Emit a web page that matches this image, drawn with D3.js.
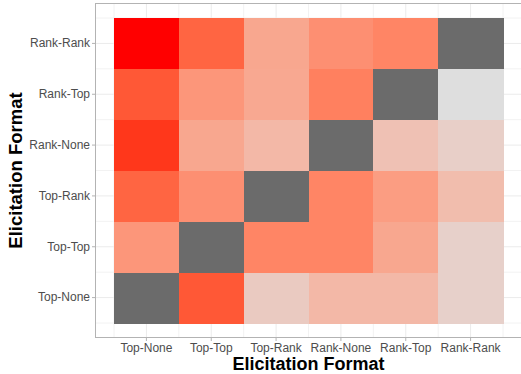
<!DOCTYPE html>
<html>
<head>
<meta charset="utf-8">
<script src="https://cdn.jsdelivr.net/npm/d3@7"></script>
<style>
  body { margin: 0; background: #fff; }
  text { font-family: "Liberation Sans", Arial, sans-serif; }
</style>
</head>
<body>
<div id="chart"></div>
<script>
// formats on the x axis (left to right) and y axis (bottom to top)
let xFormats = ["Top-None", "Top-Top", "Top-Rank", "Rank-None", "Rank-Top", "Rank-Rank"];
let yFormats = ["Top-None", "Top-Top", "Top-Rank", "Rank-None", "Rank-Top", "Rank-Rank"];

// one row per y format (bottom to top), one value per x format; null = same format (grey)
let rowTopNone  = [null, 0.79, 0.13, 0.25, 0.25, 0.09];
let rowTopTop   = [0.46, null, 0.56, 0.56, 0.36, 0.09];
let rowTopRank  = [0.73, 0.50, null, 0.56, 0.42, 0.22];
let rowRankNone = [0.91, 0.36, 0.25, null, 0.19, 0.10];
let rowRankTop  = [0.79, 0.46, 0.35, 0.59, null, 0.00];
let rowRankRank = [1.00, 0.73, 0.36, 0.50, 0.56, null];
let rows = [rowTopNone, rowTopTop, rowTopRank, rowRankNone, rowRankTop, rowRankRank];

let W = 521, H = 374;
let panel = {left: 95, right: 522, top: 3, bottom: 338};
let expandX = 19, expandY = 15;

let svg = d3.select("#chart").append("svg")
  .attr("width", W).attr("height", H);

let x = d3.scaleBand()
  .domain(xFormats)
  .range([panel.left + expandX, panel.right - expandX]);

let y = d3.scaleBand()
  .domain(yFormats)
  .range([panel.bottom - expandY, panel.top + expandY]);

let color = d3.scaleLinear()
  .domain([0, 1])
  .range(["#dedede", "#ff0000"])
  .interpolate(d3.interpolateLab);

let cells = [];
rows.forEach(function(r, i) {
  r.forEach(function(v, j) {
    cells.push({x: xFormats[j], y: yFormats[i], value: v});
  });
});

// grid lines
let grid = svg.append("g");
xFormats.forEach(function(d) {
  grid.append("line")
    .attr("x1", x(d) + x.bandwidth() / 2).attr("x2", x(d) + x.bandwidth() / 2)
    .attr("y1", panel.top).attr("y2", panel.bottom)
    .attr("stroke", "#ebebeb").attr("stroke-width", 1);
});
yFormats.forEach(function(d) {
  grid.append("line")
    .attr("y1", y(d) + y.bandwidth() / 2).attr("y2", y(d) + y.bandwidth() / 2)
    .attr("x1", panel.left).attr("x2", panel.right)
    .attr("stroke", "#ebebeb").attr("stroke-width", 1);
});
// minor grid at cell boundaries
let xs = xFormats.map(function(d) { return x(d); }).concat([x.range()[1]]);
let ys = yFormats.map(function(d) { return y(d); }).concat([y(yFormats[0]) + y.bandwidth()]);
xs.forEach(function(v) {
  grid.append("line").attr("x1", v).attr("x2", v)
    .attr("y1", panel.top).attr("y2", panel.bottom)
    .attr("stroke", "#f2f2f2").attr("stroke-width", 1);
});
ys.forEach(function(v) {
  grid.append("line").attr("y1", v).attr("y2", v)
    .attr("x1", panel.left).attr("x2", panel.right)
    .attr("stroke", "#f2f2f2").attr("stroke-width", 1);
});

// tiles
svg.append("g")
  .attr("shape-rendering", "crispEdges")
  .selectAll("rect")
  .data(cells)
  .enter().append("rect")
  .attr("x", function(d) { return x(d.x); })
  .attr("y", function(d) { return y(d.y); })
  .attr("width", x.bandwidth() + 0.5)
  .attr("height", y.bandwidth() + 0.5)
  .attr("fill", function(d) { return d.value === null ? "#6b6b6b" : color(d.value); });

// panel border
svg.append("rect")
  .attr("x", panel.left + 0.5).attr("y", panel.top + 0.5)
  .attr("width", panel.right - panel.left).attr("height", panel.bottom - panel.top - 1)
  .attr("fill", "none").attr("stroke", "#b3b3b3").attr("stroke-width", 1);

// axes
let xAxis = svg.append("g")
  .attr("transform", "translate(0," + panel.bottom + ")")
  .call(d3.axisBottom(x).tickSize(3).tickPadding(2));
let yAxis = svg.append("g")
  .attr("transform", "translate(" + panel.left + ",0)")
  .call(d3.axisLeft(y).tickSize(3).tickPadding(2));

[xAxis, yAxis].forEach(function(a) {
  a.select(".domain").remove();
  a.selectAll(".tick line").attr("stroke", "#b3b3b3");
  a.selectAll(".tick text")
    .attr("fill", "#4d4d4d")
    .style("font-size", "12px")
    .style("font-family", "'Liberation Sans', Arial, sans-serif");
});

// axis titles
svg.append("text")
  .attr("x", (panel.left + panel.right) / 2)
  .attr("y", 370)
  .attr("text-anchor", "middle")
  .style("font-size", "18px").style("font-weight", "bold")
  .text("Elicitation Format");

svg.append("text")
  .attr("transform", "translate(22," + (panel.top + panel.bottom) / 2 + ") rotate(-90)")
  .attr("text-anchor", "middle")
  .style("font-size", "18.5px").style("font-weight", "bold")
  .text("Elicitation Format");
</script>
</body>
</html>
